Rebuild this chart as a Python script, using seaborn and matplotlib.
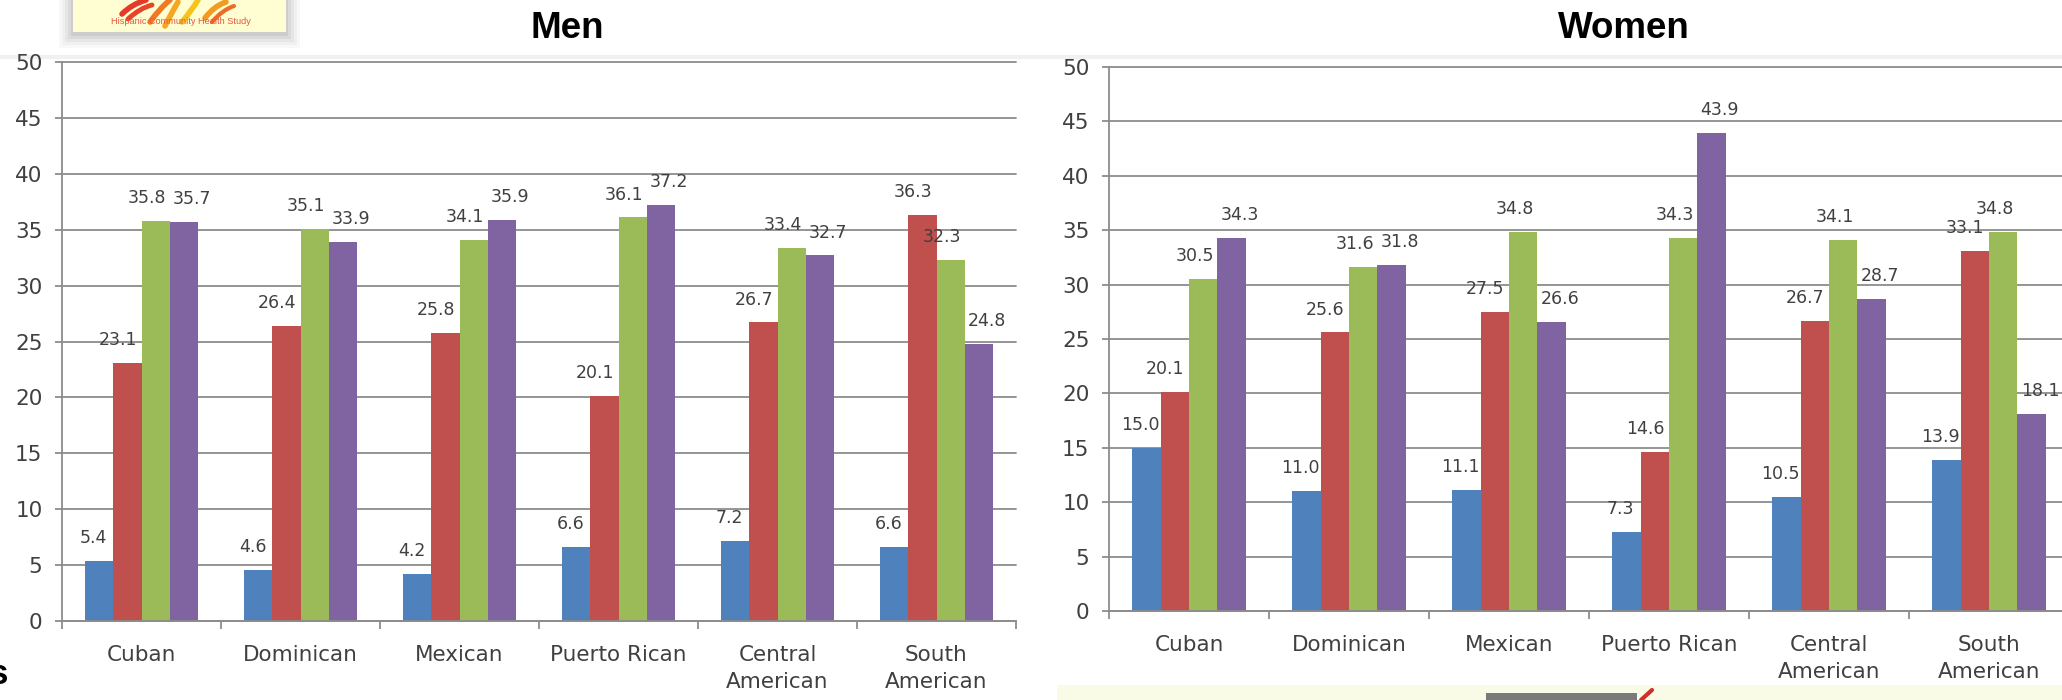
import numpy as np
import pandas as pd
import matplotlib
matplotlib.use("Agg")
import matplotlib.pyplot as plt
import seaborn as sns
from matplotlib.patches import Rectangle, PathPatch
from matplotlib.path import Path

# ---- data -------------------------------------------------------------
categories = ["Cuban", "Dominican", "Mexican", "Puerto Rican",
              "Central\nAmerican", "South\nAmerican"]
groups = ["Level 1", "Level 2", "Level 3", "Level 4"]

men_level1 = [5.4, 4.6, 4.2, 6.6, 7.2, 6.6]
men_level2 = [23.1, 26.4, 25.8, 20.1, 26.7, 36.3]
men_level3 = [35.8, 35.1, 34.1, 36.1, 33.4, 32.3]
men_level4 = [35.7, 33.9, 35.9, 37.2, 32.7, 24.8]

women_level1 = [15.0, 11.0, 11.1, 7.3, 10.5, 13.9]
women_level2 = [20.1, 25.6, 27.5, 14.6, 26.7, 33.1]
women_level3 = [30.5, 31.6, 34.8, 34.3, 34.1, 34.8]
women_level4 = [34.3, 31.8, 26.6, 43.9, 28.7, 18.1]

y_ticks = list(range(0, 51, 5))

palette = ["#4F81BD", "#C0504D", "#9BBB59", "#8064A2"]
grid_c = "#8c8c8c"
text_c = "#404040"
# horizontal nudge (points) of the value labels for each group
label_shift = [-4, -7, -6, 6]


def long_frame(series):
    rows = []
    for g, vals in zip(groups, series):
        for c, v in zip(categories, vals):
            rows.append({"origin": c, "group": g, "pct": v})
    return pd.DataFrame(rows)


men_df = long_frame([men_level1, men_level2, men_level3, men_level4])
women_df = long_frame([women_level1, women_level2, women_level3, women_level4])

sns.set_theme(style="white")
plt.rcParams["font.family"] = ["DejaVu Sans"]

W, H = 2062, 700
fig = plt.figure(figsize=(W / 100, H / 100), dpi=100)
fig.patch.set_facecolor("white")

# pixel-space overlay for slide decorations
deco = fig.add_axes([0, 0, 1, 1], zorder=0)
deco.set_xlim(0, W)
deco.set_ylim(H, 0)
deco.axis("off")


def draw_panel(ax, df, series):
    sns.barplot(data=df, x="origin", y="pct", hue="group", order=categories,
                hue_order=groups, palette=palette, width=0.71, linewidth=0,
                saturation=1, errorbar=None, legend=False, ax=ax)
    ax.set_facecolor("white")
    ax.set_ylim(0, 50)
    ax.set_xlim(-0.5, len(categories) - 0.5)
    ax.set_yticks(y_ticks)
    ax.yaxis.grid(True, color=grid_c, lw=1.3)
    ax.xaxis.grid(False)
    ax.set_axisbelow(True)
    for line in ax.get_ygridlines():
        line.set_clip_on(False)
    for s in ["top", "right"]:
        ax.spines[s].set_visible(False)
    for s in ["left", "bottom"]:
        ax.spines[s].set_color(grid_c)
        ax.spines[s].set_linewidth(1.3)
    ax.set_xticks(np.arange(-0.5, len(categories), 1.0))
    ax.set_xticklabels([])
    ax.set_xticks(range(len(categories)), minor=True)
    ax.set_xticklabels(categories, minor=True, fontsize=15.5, color=text_c,
                       linespacing=1.45)
    ax.tick_params(axis="x", which="major", length=5.5, width=1.3,
                   color=grid_c, direction="out", bottom=True)
    ax.tick_params(axis="x", which="minor", length=0, pad=17, bottom=True)
    ax.tick_params(axis="y", length=5, width=1.3, color=grid_c,
                   labelsize=15.5, labelcolor=text_c, pad=9, left=True,
                   direction="out")
    ax.set_xlabel("")
    ax.set_ylabel("")
    for container, vals, dx in zip(ax.containers, series, label_shift):
        for bar, v in zip(container, vals):
            ax.annotate(f"{v:.1f}",
                        (bar.get_x() + bar.get_width() / 2, bar.get_height()),
                        xytext=(dx, 10), textcoords="offset points",
                        ha="center", va="bottom", fontsize=12.5, color=text_c)


ax_men = fig.add_axes([62 / W, (H - 621) / H, 954 / W, 559 / H], zorder=2)
draw_panel(ax_men, men_df, [men_level1, men_level2, men_level3, men_level4])

ax_women = fig.add_axes([1109 / W, (H - 611) / H, 960 / W, 544 / H], zorder=2)
draw_panel(ax_women, women_df,
           [women_level1, women_level2, women_level3, women_level4])

# panel titles
fig.text(567 / W, (H - 38) / H, "Men", fontsize=26.5, weight="bold",
         family="Liberation Sans", ha="center", va="baseline", color="black")
fig.text(1624 / W, (H - 38) / H, "Women", fontsize=26.5, weight="bold",
         family="Liberation Sans", ha="center", va="baseline", color="black")

# faint slide band under the header
deco.plot([0, W], [57, 57], color="#f1f1f1", lw=3, solid_capstyle="butt")

# study logo with soft shadow
for i, a in enumerate([0.05, 0.06, 0.08, 0.10, 0.12]):
    pad = 14 - i * 3
    deco.add_patch(Rectangle((73 - pad, -10), 213 + 2 * pad, 42 + pad + 2,
                             facecolor="#777777", edgecolor="none", alpha=a))
deco.add_patch(Rectangle((73, -10), 213, 42, facecolor="#FFFDD2",
                         edgecolor="none"))


def stroke(pts, color, lw):
    codes = [Path.MOVETO] + [Path.CURVE3] * (len(pts) - 1)
    deco.add_patch(PathPatch(Path(pts, codes), facecolor="none",
                             edgecolor=color, lw=lw, capstyle="round"))


stroke([(122, 14), (132, 4), (146, 0)], "#E53A2A", 4)
stroke([(128, 19), (140, 8), (152, 5)], "#E8432B", 3.5)
stroke([(150, 22), (160, 8), (170, 0)], "#F07A23", 4)
stroke([(165, 26), (172, 12), (178, 2)], "#F5A623", 4)
stroke([(182, 22), (192, 10), (198, 0)], "#F7C31B", 4)
stroke([(205, 18), (214, 6), (226, 2)], "#F29B20", 4)
stroke([(212, 22), (222, 10), (234, 6)], "#EF6B25", 3)
deco.text(181, 21, "Hispanic Community Health Study", fontsize=6.6,
          family="Liberation Sans", color="#E8553E", ha="center", va="center")

# partial heading text at the lower-left edge
deco.text(8, 684, "s", fontsize=25, weight="bold", family="Liberation Sans",
          ha="right", va="baseline", color="black")

# footer strip at the lower-right
deco.add_patch(Rectangle((1057, 685), W - 1057, 20, facecolor="#FAFBE6",
                         edgecolor="none"))
deco.add_patch(Rectangle((1486, 693), 151, 10, facecolor="#7a7a7a",
                         edgecolor="none"))
deco.plot([1641, 1652], [700, 690], color="#D0302A", lw=3)

fig.savefig("out.png", dpi=100, facecolor="white")
